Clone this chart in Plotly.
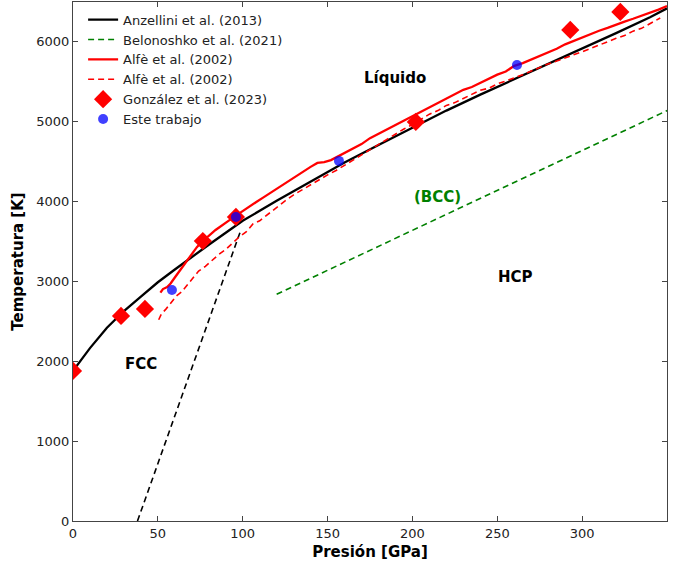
import plotly.graph_objects as go

# Anzellini et al. (2013)
anz_P = [0, 5, 10, 20, 30, 40, 50, 60, 70, 80, 90, 100, 120, 140, 160, 180, 200, 220, 240, 260, 280, 300, 320, 340, 350]
anz_T = [1880, 2030, 2165, 2420, 2630, 2810, 2990, 3150, 3310, 3460, 3610, 3760, 4010, 4250, 4490, 4710, 4930, 5140, 5340, 5530, 5720, 5910, 6110, 6310, 6420]

# FCC-HCP boundary (black dashed)
fcc_P = [38, 98.5]
fcc_T = [0, 3620]

# Belonoshko et al. (2021)
bel_P = [120, 350]
bel_T = [2840, 5140]

# Alfè et al. (2002) solid
alfe1_P = [51.5, 53, 55.5, 57.5, 60, 63, 66, 70, 73, 77, 80, 84, 88, 92, 96, 100, 104, 108, 112, 116, 120, 125, 130,
           135, 140, 144, 148, 152, 156, 160, 165, 170, 175, 180, 185, 190, 195, 200, 205, 210, 215, 220, 225, 230, 235,
           240, 245, 250, 255, 260, 265, 270, 275, 280, 285, 290, 295, 300, 305, 310, 315, 320, 325, 330, 335, 340, 345, 350]
alfe1_T = [2860, 2905, 2930, 2975, 3050, 3140, 3230, 3350, 3430, 3525, 3570, 3645, 3700, 3765, 3825, 3885, 3935,
           3995, 4050, 4105, 4160, 4235, 4300, 4375, 4435, 4485, 4495, 4520, 4565, 4600, 4665, 4720, 4795, 4850, 4915,
           4960, 5025, 5080, 5125, 5190, 5245, 5300, 5345, 5400, 5435, 5490, 5535, 5590, 5630, 5700, 5735, 5780, 5825,
           5870, 5915, 5970, 6015, 6060, 6095, 6140, 6175, 6220, 6255, 6290, 6325, 6370, 6405, 6450]

# Alfè et al. (2002) dashed
alfe2_P = [50.5, 52, 55, 58, 61, 64, 67, 70, 74, 78, 82, 86, 90, 94, 98, 102, 106, 110, 115, 120, 125, 130, 135, 140,
           145, 150, 155, 160, 165, 170, 175, 180, 185, 190, 195, 200, 205, 210, 215, 220, 225, 230, 235, 240, 245, 250,
           255, 260, 265, 270, 275, 280, 285, 290, 295, 300, 305, 310, 315, 320, 325, 330, 335, 340, 346]
alfe2_T = [2520, 2590, 2660, 2740, 2820, 2870, 2950, 3030, 3130, 3190, 3265, 3340, 3400, 3485, 3560, 3620, 3720, 3760,
           3845, 3930, 4010, 4085, 4150, 4215, 4270, 4335, 4390, 4455, 4520, 4595, 4650, 4715, 4790, 4855, 4910, 4965,
           5030, 5095, 5140, 5205, 5240, 5295, 5340, 5395, 5420, 5475, 5510, 5555, 5590, 5635, 5680, 5725, 5760, 5805,
           5840, 5875, 5920, 5965, 6000, 6045, 6080, 6135, 6170, 6225, 6300]

# González et al. (2023)
gon_P = [0, 28.3, 42.4, 76.5, 96, 202, 293, 322.5]
gon_T = [1880, 2568, 2656, 3507, 3808, 4998, 6150, 6376]

# Este trabajo
est_P = [58.3, 96, 156.7, 261.6]
est_T = [2894, 3808, 4510, 5712]

x_ticks = [0, 50, 100, 150, 200, 250, 300, 350]
y_ticks = [0, 1000, 2000, 3000, 4000, 5000, 6000]

fig = go.Figure()
fig.add_trace(go.Scatter(x=anz_P, y=anz_T, mode="lines", name="Anzellini et al. (2013)",
                         line=dict(color="black", width=2.3), legendrank=1))
fig.add_trace(go.Scatter(x=fcc_P, y=fcc_T, mode="lines", showlegend=False,
                         line=dict(color="black", width=1.6, dash="6px,4px")))
fig.add_trace(go.Scatter(x=bel_P, y=bel_T, mode="lines", name="Belonoshko et al. (2021)",
                         line=dict(color="green", width=1.6, dash="6px,4px"), legendrank=2))
fig.add_trace(go.Scatter(x=alfe1_P, y=alfe1_T, mode="lines", name="Alfè et al. (2002)",
                         line=dict(color="red", width=2.3), legendrank=3))
fig.add_trace(go.Scatter(x=alfe2_P, y=alfe2_T, mode="lines", name="Alfè et al. (2002)",
                         line=dict(color="red", width=1.6, dash="6px,4px"), legendrank=4))
fig.add_trace(go.Scatter(x=gon_P, y=gon_T, mode="markers", name="González et al. (2023)",
                         marker=dict(symbol="diamond", color="red", size=14, line=dict(width=0)), legendrank=5))
fig.add_trace(go.Scatter(x=est_P, y=est_T, mode="markers", name="Este trabajo",
                         marker=dict(symbol="circle", color="rgba(0,0,255,0.75)", size=10, line=dict(width=0)),
                         legendrank=6))

labels = [("Líquido", 189.7, 5550, "black"), ("(BCC)", 214.5, 4059, "green"),
          ("HCP", 261, 3056, "black"), ("FCC", 40, 1967, "black")]
for txt, px, py, col in labels:
    fig.add_annotation(x=px, y=py, text=f"<b>{txt}</b>", showarrow=False,
                       font=dict(family="DejaVu Sans", size=15, color=col))

axis_common = dict(showline=True, linecolor="#444", linewidth=1.2, mirror="ticks", ticks="inside",
                   ticklen=5, tickcolor="#444", showgrid=False, zeroline=False,
                   tickfont=dict(family="DejaVu Sans", size=13, color="#222"))
fig.update_xaxes(range=[0, 350], tickvals=x_ticks, **axis_common,
                 title=dict(text="<b>Presión [GPa]</b>", font=dict(family="DejaVu Sans", size=15, color="black"),
                            standoff=6))
fig.update_yaxes(range=[0, 6500], tickvals=y_ticks, **axis_common,
                 title=dict(text="<b>Temperatura [K]</b>", font=dict(family="DejaVu Sans", size=15, color="black"),
                            standoff=8))

fig.update_layout(
    width=678, height=565,
    margin=dict(l=73, r=11, t=2, b=44),
    plot_bgcolor="white", paper_bgcolor="white",
    font=dict(family="DejaVu Sans", size=13, color="#222"),
    legend=dict(x=0.017, y=0.995, xanchor="left", yanchor="top", bgcolor="rgba(255,255,255,0)",
                font=dict(family="DejaVu Sans", size=13, color="#222"), tracegroupgap=0, itemwidth=30),
)

fig.write_html("out.html")
